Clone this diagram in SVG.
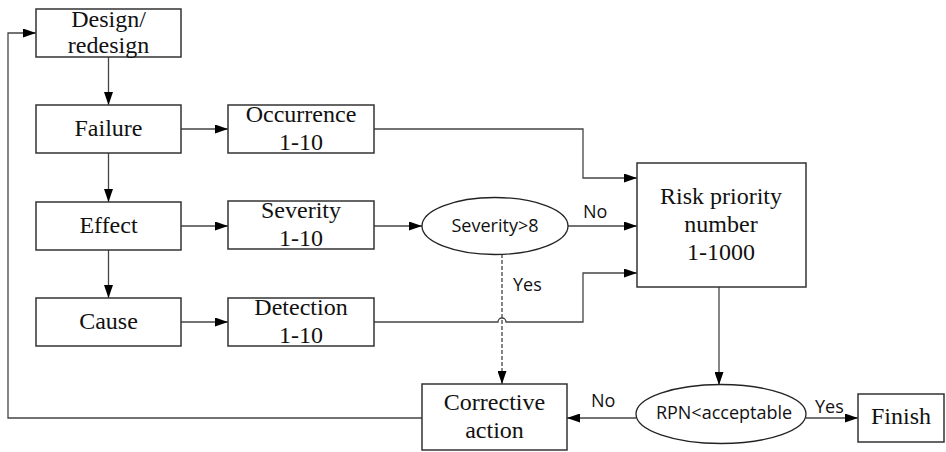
<svg xmlns="http://www.w3.org/2000/svg" width="946" height="452" viewBox="0 0 946 452">
  <style>
    .box { fill: #fff; stroke: #333; stroke-width: 1.5; }
    .ell { fill: #fff; stroke: #222; stroke-width: 1.3; }
    .lbl { font-family: "Liberation Serif", "Times New Roman", serif; font-size: 24px; fill: #111; text-anchor: middle; }
    .sans { font-family: "Open Sans", "Noto Sans", "DejaVu Sans", sans-serif; font-size: 18px; fill: #111; }
    .link { fill: none; stroke: #444; stroke-width: 1.3; }
    .arrow { marker-end: url(#head); }
    .dash { stroke-dasharray: 4 2; }
  </style>
  <defs>
    <marker id="head" viewBox="0 0 13 9" refX="13" refY="4.5" markerWidth="13" markerHeight="9" markerUnits="userSpaceOnUse" orient="auto">
      <path d="M0,0 L13,4.5 L0,9 Z" fill="#000"/>
    </marker>
  </defs>
  <rect width="946" height="452" fill="#fff"/>

  <g id="connectors">
    <path class="link arrow" d="M108.5,57 V105"/>
    <path class="link arrow" d="M108.5,153 V202"/>
    <path class="link arrow" d="M108.5,250 V298"/>
    <path class="link arrow" d="M181,129 H228"/>
    <path class="link arrow" d="M181,226 H228"/>
    <path class="link arrow" d="M181,322 H228"/>
    <path class="link arrow" d="M374,129 H583 V178 H637"/>
    <path class="link arrow" d="M374,226 H422"/>
    <path class="link arrow" d="M568,226 H637"/>
    <path class="link arrow" d="M374,322 H498 A4,4 0 0 1 506,322 H583 V273 H637"/>
    <path class="link arrow dash" d="M502,254 V384"/>
    <path class="link arrow" d="M719,287 V385"/>
    <path class="link arrow" d="M636,418 H567"/>
    <path class="link arrow" d="M806,418 H858"/>
    <path class="link arrow" d="M422,418 H8 V33 H36"/>
    <text class="sans" x="583" y="218">No</text>
    <text class="sans" x="513" y="291">Yes</text>
    <text class="sans" x="591" y="407">No</text>
    <text class="sans" x="815" y="413">Yes</text>
  </g>

  <g id="design">
    <rect class="box" x="36" y="9" width="145" height="48"/>
    <text class="lbl" x="108.5" y="27">Design/</text>
    <text class="lbl" x="108.5" y="53">redesign</text>
  </g>
  <g id="failure">
    <rect class="box" x="36" y="105" width="145" height="48"/>
    <text class="lbl" x="108.5" y="136">Failure</text>
  </g>
  <g id="effect">
    <rect class="box" x="36" y="202" width="145" height="48"/>
    <text class="lbl" x="108.5" y="233">Effect</text>
  </g>
  <g id="cause">
    <rect class="box" x="36" y="298" width="145" height="48"/>
    <text class="lbl" x="108.5" y="329">Cause</text>
  </g>
  <g id="occurrence">
    <rect class="box" x="228" y="105" width="146" height="48"/>
    <text class="lbl" x="301" y="122">Occurrence</text>
    <text class="lbl" x="301" y="150">1-10</text>
  </g>
  <g id="severity">
    <rect class="box" x="228" y="201" width="146" height="48"/>
    <text class="lbl" x="301" y="218">Severity</text>
    <text class="lbl" x="301" y="246">1-10</text>
  </g>
  <g id="detection">
    <rect class="box" x="228" y="298" width="146" height="48"/>
    <text class="lbl" x="301" y="315">Detection</text>
    <text class="lbl" x="301" y="343">1-10</text>
  </g>
  <g id="severity-check">
    <ellipse class="ell" cx="495" cy="226" rx="73" ry="28.5"/>
    <text class="sans" x="495" y="232" text-anchor="middle">Severity&gt;8</text>
  </g>
  <g id="rpn">
    <rect class="box" x="637" y="163" width="169" height="124"/>
    <text class="lbl" x="721" y="204">Risk priority</text>
    <text class="lbl" x="721" y="232">number</text>
    <text class="lbl" x="721" y="260">1-1000</text>
  </g>
  <g id="rpn-check">
    <ellipse class="ell" cx="721" cy="414" rx="85" ry="29.5"/>
    <text class="sans" x="724" y="419" text-anchor="middle">RPN&lt;acceptable</text>
  </g>
  <g id="corrective">
    <rect class="box" x="422" y="384" width="145" height="66"/>
    <text class="lbl" x="494.5" y="410">Corrective</text>
    <text class="lbl" x="494.5" y="438">action</text>
  </g>
  <g id="finish">
    <rect class="box" x="858" y="394" width="86" height="48"/>
    <text class="lbl" x="901" y="424">Finish</text>
  </g>
</svg>
